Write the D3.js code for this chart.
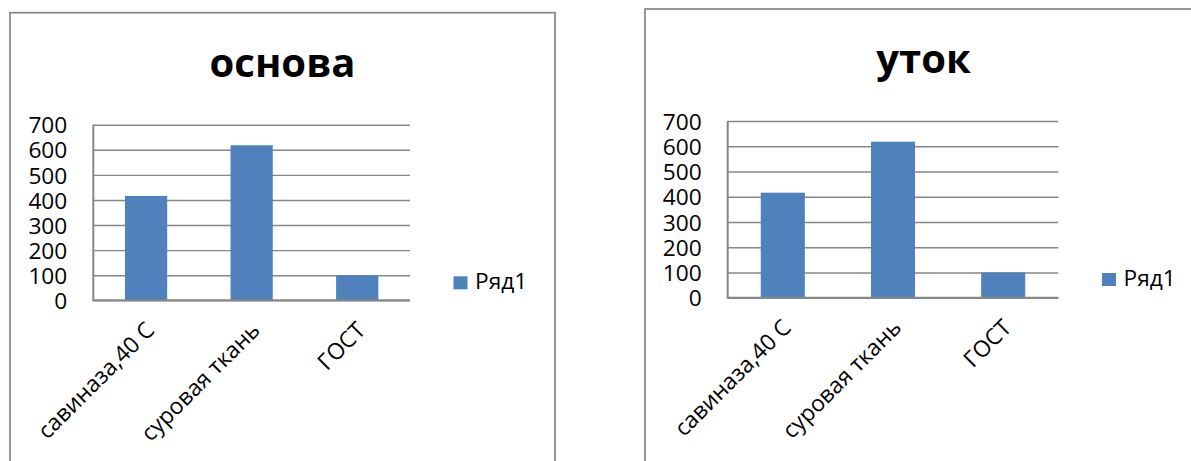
<!DOCTYPE html>
<html>
<head>
<meta charset="utf-8">
<script src="https://cdn.jsdelivr.net/npm/d3@7"></script>
<style>
  html, body { margin: 0; padding: 0; background: #fff; }
  svg { display: block; }
  text { font-family: 'Open Sans', 'Noto Sans', sans-serif; fill: #000; }
</style>
</head>
<body>
<svg id="chart" width="1191" height="461"></svg>
<script>
// Data
const categories = ["савиназа,40 С", "суровая ткань", "ГОСТ"];
const warpValues = [416, 618, 100];   // основа
const weftValues = [416, 618, 100];   // уток
const yTicks = [0, 100, 200, 300, 400, 500, 600, 700];
const seriesName = "Ряд1";
const titles = ["основа", "уток"];

const svg = d3.select("#chart");
const BAR = "#4F81BD";
const LINE = "#878787";
const LABEL_SIZE = 22.7;

// Layout of the two chart panels
const panels = [
  { title: titles[0], values: warpValues,
    frame: { x: 10, y: 12.7, w: 545, h: 480 },
    plot: { x0: 93.3, x1: 410, y0: 124.7, y1: 300.3 },
    titleBase: 76.7, legend: { x: 453.5, y: 276.3 } },
  { title: titles[1], values: weftValues,
    frame: { x: 645, y: 9, w: 560, h: 480 },
    plot: { x0: 727.7, x1: 1058.3, y0: 121, y1: 297.7 },
    titleBase: 73, legend: { x: 1102, y: 273 } }
];

panels.forEach(p => {
  const g = svg.append("g");

  // chart frame
  g.append("rect")
    .attr("x", p.frame.x).attr("y", p.frame.y)
    .attr("width", p.frame.w).attr("height", p.frame.h)
    .attr("fill", "#fff").attr("stroke", LINE).attr("stroke-width", 1.7);

  // title
  g.append("text")
    .attr("x", p.frame.x + p.frame.w / 2 - (p === panels[1] ? 1.5 : 0))
    .attr("y", p.titleBase)
    .attr("text-anchor", "middle")
    .style("font-size", "40px").style("font-weight", "700")
    .text(p.title);

  const x = d3.scaleBand()
    .domain(categories)
    .range([p.plot.x0, p.plot.x1])
    .paddingInner(0.6).paddingOuter(0.3);

  const y = d3.scaleLinear()
    .domain([0, 700])
    .range([p.plot.y1, p.plot.y0]);

  // value axis with gridlines
  const yAxis = g.append("g")
    .attr("transform", `translate(${p.plot.x0},0)`)
    .call(d3.axisLeft(y).tickValues(yTicks)
      .tickSize(-(p.plot.x1 - p.plot.x0)).tickPadding(26)
      .tickFormat(d3.format("d")));
  yAxis.select(".domain").remove();
  yAxis.selectAll(".tick line")
    .attr("stroke", LINE).attr("stroke-width", 1.4);
  yAxis.selectAll(".tick text")
    .attr("dy", "0.36em")
    .style("font-size", LABEL_SIZE + "px")
    .style("font-family", "'Open Sans', sans-serif")
    .attr("fill", "#000");

  // bars
  g.selectAll("rect.bar")
    .data(p.values)
    .join("rect")
    .attr("class", "bar")
    .attr("x", (d, i) => x(categories[i]))
    .attr("width", x.bandwidth())
    .attr("y", d => y(d))
    .attr("height", d => y(0) - y(d))
    .attr("fill", BAR);

  // axis lines
  g.append("line")
    .attr("x1", p.plot.x0).attr("x2", p.plot.x0)
    .attr("y1", p.plot.y0).attr("y2", p.plot.y1)
    .attr("stroke", LINE).attr("stroke-width", 2);
  g.append("line")
    .attr("x1", p.plot.x0 - 1).attr("x2", p.plot.x1)
    .attr("y1", p.plot.y1).attr("y2", p.plot.y1)
    .attr("stroke", LINE).attr("stroke-width", 2);

  // category labels, rotated
  g.selectAll("text.cat")
    .data(categories)
    .join("text")
    .attr("class", "cat")
    .attr("text-anchor", "end")
    .attr("transform", d =>
      `translate(${x(d) + x.bandwidth() / 2 + 9.6},${p.plot.y1 + 31.4}) rotate(-45)`)
    .style("font-size", LABEL_SIZE + "px")
    .text(d => d);

  // legend
  g.append("rect")
    .attr("x", p.legend.x).attr("y", p.legend.y)
    .attr("width", 14).attr("height", 13)
    .attr("fill", BAR);
  g.append("text")
    .attr("x", p.legend.x + 21.5)
    .attr("y", p.legend.y + 13)
    .style("font-size", LABEL_SIZE + "px")
    .text(seriesName);
});
</script>
</body>
</html>
